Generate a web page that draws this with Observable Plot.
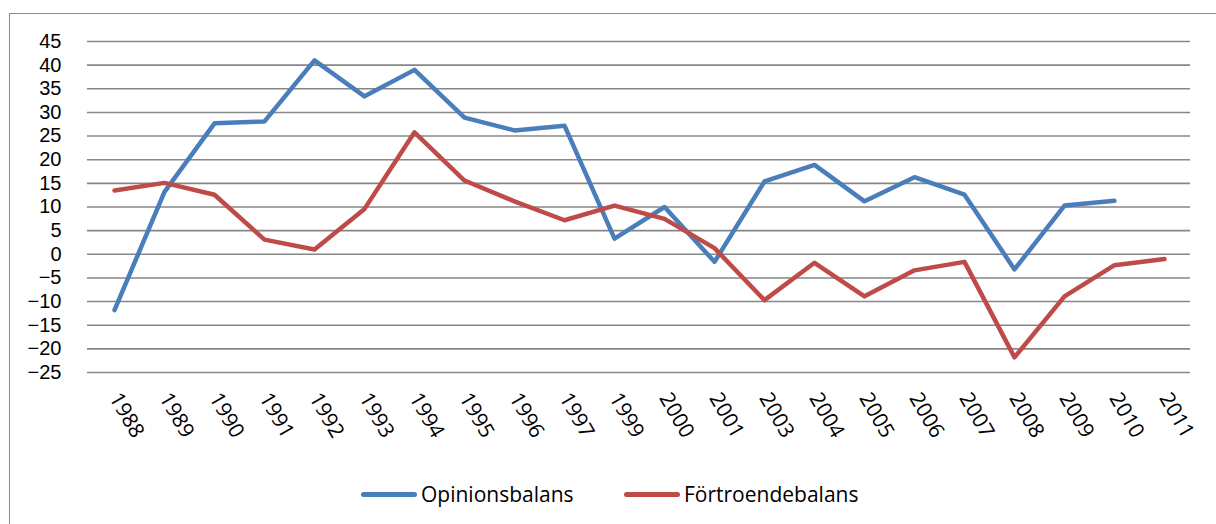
<!DOCTYPE html>
<html>
<head>
<meta charset="utf-8">
<script src="https://cdn.jsdelivr.net/npm/d3@7"></script>
<script src="https://cdn.jsdelivr.net/npm/@observablehq/plot@0.6"></script>
<style>
  html, body { margin: 0; padding: 0; background: #fff; overflow: hidden; width: 1216px; height: 524px; }
  #frame { position: absolute; left: 9px; top: 13px; width: 1400px; height: 700px; border: 1.5px solid #8a8a8a; box-sizing: border-box; }
  #chart { position: absolute; left: 0; top: 0; }
  #legend { position: absolute; left: 0; top: 480px; width: 1216px; height: 28px; font-family: "Open Sans", sans-serif; font-size: 21px; color: #000; }
  .item { position: absolute; top: 0; display: flex; align-items: center; height: 28px; }
  .sw { display: inline-block; width: 56px; height: 5px; border-radius: 3px; margin-right: 4px; }
  .yax text { font-family: "Liberation Sans", sans-serif; }
</style>
</head>
<body>
<div id="frame"></div>
<div id="chart"></div>
<div id="legend">
  <div class="item" style="left:361px"><span class="sw" style="background:#4a7ebb"></span><span>Opinionsbalans</span></div>
  <div class="item" style="left:624px"><span class="sw" style="background:#be4b48"></span><span>Förtroendebalans</span></div>
</div>
<script>
const years = ["1988","1989","1990","1991","1992","1993","1994","1995","1996","1997","1999","2000","2001","2003","2004","2005","2006","2007","2008","2009","2010","2011"];
const opinionsbalans = [-11.8, 13.2, 27.7, 28.1, 41.0, 33.4, 39.0, 28.9, 26.2, 27.2, 3.3, 10.0, -1.6, 15.4, 18.9, 11.2, 16.3, 12.6, -3.2, 10.3, 11.3, null];
const fortroendebalans = [13.5, 15.1, 12.6, 3.1, 1.0, 9.6, 25.8, 15.6, 11.2, 7.2, 10.3, 7.5, 1.3, -9.7, -1.8, -8.9, -3.4, -1.6, -21.8, -8.9, -2.3, -1.0];
const yTicks = [-25, -20, -15, -10, -5, 0, 5, 10, 15, 20, 25, 30, 35, 40, 45];
const seriesNames = ["Opinionsbalans", "Förtroendebalans"];
const seriesColors = ["#4a7ebb", "#be4b48"];

const rows = [];
years.forEach((y, i) => {
  rows.push({year: y, value: opinionsbalans[i], series: seriesNames[0]});
  rows.push({year: y, value: fortroendebalans[i], series: seriesNames[1]});
});

const chart = Plot.plot({
  width: 1216,
  height: 470,
  marginLeft: 87,
  marginRight: 26,
  marginTop: 41,
  marginBottom: 98,
  style: {fontFamily: "'Open Sans', sans-serif", fontSize: "21px", color: "#000", background: "transparent", overflow: "visible"},
  x: {type: "point", domain: years, padding: 0.5, label: null},
  y: {domain: [-25, 45], label: null},
  color: {domain: seriesNames, range: seriesColors},
  marks: [
    Plot.ruleY(yTicks, {stroke: "#868686", strokeWidth: 1.6}),
    Plot.axisY({ticks: yTicks, tickSize: 0, tickPadding: 26, fontSize: 20, label: null, className: "yax"}),
    Plot.axisX({tickSize: 0, tickPadding: 22, tickRotate: 60, fontSize: 21, label: null}),
    Plot.line(rows, {x: "year", y: "value", z: "series", stroke: "series", strokeWidth: 4.5, strokeLinejoin: "round", strokeLinecap: "round"})
  ]
});
document.getElementById("chart").appendChild(chart);
</script>
</body>
</html>
